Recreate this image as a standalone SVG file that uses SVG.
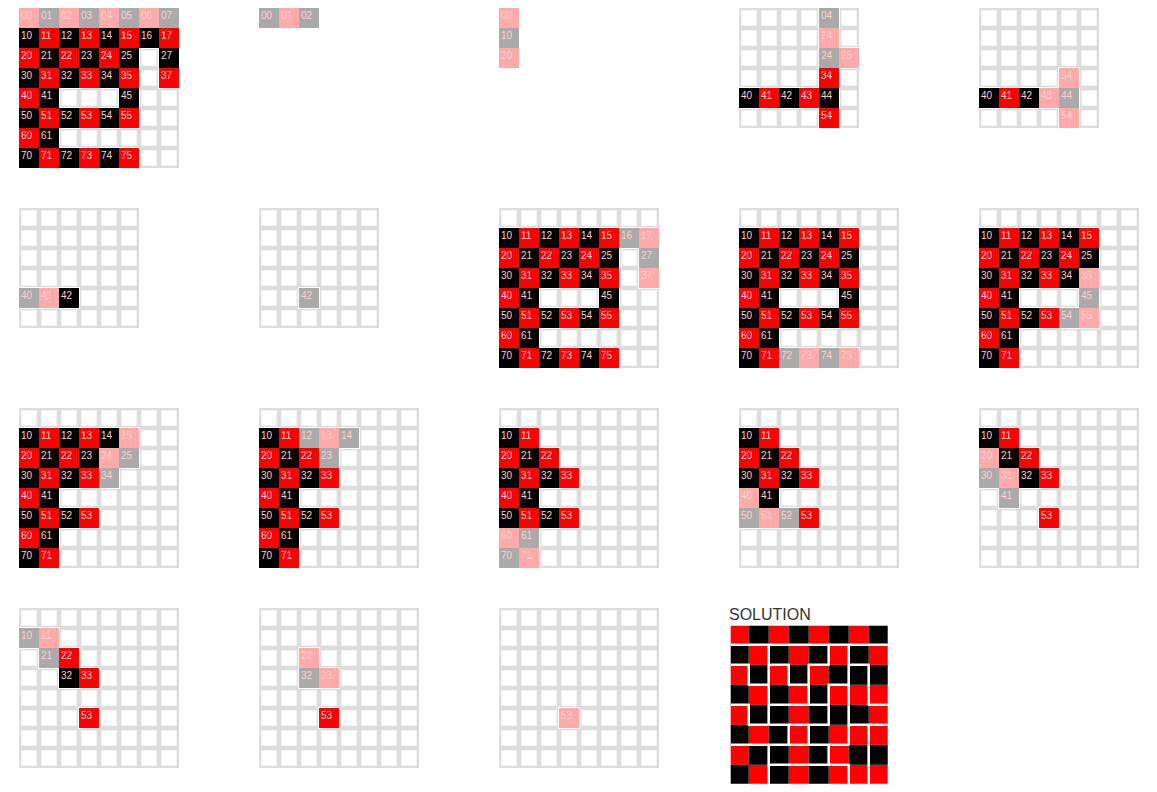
<svg xmlns="http://www.w3.org/2000/svg" width="1157" height="792" viewBox="0 0 1157 792">
<style>
.r{fill:#f00}.b{fill:#000}.p{fill:#ffaaaa}.g{fill:#aaa}
.t text{font-family:"Liberation Sans",Arial,sans-serif;font-size:10px;fill:#ffd0d0}
.lbl{font-family:"Liberation Sans",Arial,sans-serif;font-size:16px;fill:#333}
.wall{stroke:#fff;stroke-width:2.6;stroke-linecap:round;stroke-linejoin:round;fill:none}
</style>
<defs>
<pattern id="grid" width="20" height="20" patternUnits="userSpaceOnUse">
<rect width="20" height="20" fill="#ddd"/>
<rect x="2.35" y="2.35" width="15.3" height="15.3" fill="#fff"/>
</pattern>
<filter id="halo" filterUnits="userSpaceOnUse" x="-10" y="-10" width="190" height="190">
<feMorphology in="SourceAlpha" operator="dilate" radius="1.3" result="d"/>
<feFlood flood-color="#fff" result="f"/>
<feComposite in="f" in2="d" operator="in" result="w"/>
<feMerge><feMergeNode in="w"/><feMergeNode in="SourceGraphic"/></feMerge>
</filter>
<clipPath id="sc"><rect x="730.7" y="625.7" width="157" height="158"/></clipPath>
</defs>
<rect width="1157" height="792" fill="#fff"/>

<g id="p1" transform="translate(19,8)">
<rect width="160" height="160" fill="url(#grid)"/>
<g filter="url(#halo)" transform="translate(-1,-1)">
<path class="p" d="M1 1h20v20h-20zM41 1h20v20h-20zM81 1h20v20h-20zM121 1h20v20h-20z"/>
<path class="g" d="M21 1h20v20h-20zM61 1h20v20h-20zM101 1h20v20h-20zM141 1h20v20h-20z"/>
<path class="b" d="M1 21h20v20h-20zM41 21h20v20h-20zM81 21h20v20h-20zM121 21h20v20h-20zM21 41h20v20h-20zM61 41h20v20h-20zM101 41h20v20h-20zM141 41h20v20h-20zM1 61h20v20h-20zM41 61h20v20h-20zM81 61h20v20h-20zM21 81h20v20h-20zM101 81h20v20h-20zM1 101h20v20h-20zM41 101h20v20h-20zM81 101h20v20h-20zM21 121h20v20h-20zM1 141h20v20h-20zM41 141h20v20h-20zM81 141h20v20h-20z"/>
<path class="r" d="M21 21h20v20h-20zM61 21h20v20h-20zM101 21h20v20h-20zM141 21h20v20h-20zM1 41h20v20h-20zM41 41h20v20h-20zM81 41h20v20h-20zM21 61h20v20h-20zM61 61h20v20h-20zM101 61h20v20h-20zM141 61h20v20h-20zM1 81h20v20h-20zM21 101h20v20h-20zM61 101h20v20h-20zM101 101h20v20h-20zM1 121h20v20h-20zM21 141h20v20h-20zM61 141h20v20h-20zM101 141h20v20h-20z"/>
</g>
<g class="t">
<text x="2" y="10.5">00</text><text x="22" y="10.5">01</text><text x="42" y="10.5">02</text><text x="62" y="10.5">03</text><text x="82" y="10.5">04</text><text x="102" y="10.5">05</text><text x="122" y="10.5">06</text><text x="142" y="10.5">07</text>
<text x="2" y="30.5">10</text><text x="22" y="30.5">11</text><text x="42" y="30.5">12</text><text x="62" y="30.5">13</text><text x="82" y="30.5">14</text><text x="102" y="30.5">15</text><text x="122" y="30.5">16</text><text x="142" y="30.5">17</text>
<text x="2" y="50.5">20</text><text x="22" y="50.5">21</text><text x="42" y="50.5">22</text><text x="62" y="50.5">23</text><text x="82" y="50.5">24</text><text x="102" y="50.5">25</text><text x="142" y="50.5">27</text>
<text x="2" y="70.5">30</text><text x="22" y="70.5">31</text><text x="42" y="70.5">32</text><text x="62" y="70.5">33</text><text x="82" y="70.5">34</text><text x="102" y="70.5">35</text><text x="142" y="70.5">37</text>
<text x="2" y="90.5">40</text><text x="22" y="90.5">41</text><text x="102" y="90.5">45</text>
<text x="2" y="110.5">50</text><text x="22" y="110.5">51</text><text x="42" y="110.5">52</text><text x="62" y="110.5">53</text><text x="82" y="110.5">54</text><text x="102" y="110.5">55</text>
<text x="2" y="130.5">60</text><text x="22" y="130.5">61</text>
<text x="2" y="150.5">70</text><text x="22" y="150.5">71</text><text x="42" y="150.5">72</text><text x="62" y="150.5">73</text><text x="82" y="150.5">74</text><text x="102" y="150.5">75</text>
</g>
</g>

<g id="p2" transform="translate(259,8)">
<g filter="url(#halo)" transform="translate(-1,-1)">
<path class="g" d="M1 1h20v20h-20zM41 1h20v20h-20z"/>
<path class="p" d="M21 1h20v20h-20z"/>
</g>
<g class="t"><text x="2" y="10.5">00</text><text x="22" y="10.5">01</text><text x="42" y="10.5">02</text></g>
</g>

<g id="p3" transform="translate(499,8)">
<g filter="url(#halo)" transform="translate(-1,-1)">
<path class="p" d="M1 1h20v20h-20zM1 41h20v20h-20z"/>
<path class="g" d="M1 21h20v20h-20z"/>
</g>
<g class="t"><text x="2" y="10.5">00</text><text x="2" y="30.5">10</text><text x="2" y="50.5">20</text></g>
</g>

<g id="p4" transform="translate(739,8)">
<rect width="120" height="120" fill="url(#grid)"/>
<g filter="url(#halo)" transform="translate(-1,-1)">
<path class="g" d="M81 1h20v20h-20zM81 41h20v20h-20z"/>
<path class="p" d="M81 21h20v20h-20zM101 41h20v20h-20z"/>
<path class="r" d="M81 61h20v20h-20zM21 81h20v20h-20zM61 81h20v20h-20zM81 101h20v20h-20z"/>
<path class="b" d="M1 81h20v20h-20zM41 81h20v20h-20zM81 81h20v20h-20z"/>
</g>
<g class="t"><text x="82" y="10.5">04</text><text x="82" y="30.5">14</text><text x="82" y="50.5">24</text><text x="102" y="50.5">25</text><text x="82" y="70.5">34</text><text x="2" y="90.5">40</text><text x="22" y="90.5">41</text><text x="42" y="90.5">42</text><text x="62" y="90.5">43</text><text x="82" y="90.5">44</text><text x="82" y="110.5">54</text></g>
</g>

<g id="p5" transform="translate(979,8)">
<rect width="120" height="120" fill="url(#grid)"/>
<g filter="url(#halo)" transform="translate(-1,-1)">
<path class="p" d="M81 61h20v20h-20zM61 81h20v20h-20zM81 101h20v20h-20z"/>
<path class="g" d="M81 81h20v20h-20z"/>
<path class="b" d="M1 81h20v20h-20zM41 81h20v20h-20z"/>
<path class="r" d="M21 81h20v20h-20z"/>
</g>
<g class="t"><text x="82" y="70.5">34</text><text x="2" y="90.5">40</text><text x="22" y="90.5">41</text><text x="42" y="90.5">42</text><text x="62" y="90.5">43</text><text x="82" y="90.5">44</text><text x="82" y="110.5">54</text></g>
</g>

<g id="p6" transform="translate(19,208)">
<rect width="120" height="120" fill="url(#grid)"/>
<g filter="url(#halo)" transform="translate(-1,-1)">
<path class="g" d="M1 81h20v20h-20z"/>
<path class="p" d="M21 81h20v20h-20z"/>
<path class="b" d="M41 81h20v20h-20z"/>
</g>
<g class="t"><text x="2" y="90.5">40</text><text x="22" y="90.5">41</text><text x="42" y="90.5">42</text></g>
</g>

<g id="p7" transform="translate(259,208)">
<rect width="120" height="120" fill="url(#grid)"/>
<g filter="url(#halo)" transform="translate(-1,-1)">
<path class="g" d="M41 81h20v20h-20z"/>
</g>
<g class="t"><text x="42" y="90.5">42</text></g>
</g>

<g id="p8" transform="translate(499,208)">
<rect width="160" height="160" fill="url(#grid)"/>
<g filter="url(#halo)" transform="translate(-1,-1)">
<path class="b" d="M1 21h20v20h-20zM41 21h20v20h-20zM81 21h20v20h-20zM21 41h20v20h-20zM61 41h20v20h-20zM101 41h20v20h-20zM1 61h20v20h-20zM41 61h20v20h-20zM81 61h20v20h-20zM21 81h20v20h-20zM101 81h20v20h-20zM1 101h20v20h-20zM41 101h20v20h-20zM81 101h20v20h-20zM21 121h20v20h-20zM1 141h20v20h-20zM41 141h20v20h-20zM81 141h20v20h-20z"/>
<path class="r" d="M21 21h20v20h-20zM61 21h20v20h-20zM101 21h20v20h-20zM1 41h20v20h-20zM41 41h20v20h-20zM81 41h20v20h-20zM21 61h20v20h-20zM61 61h20v20h-20zM101 61h20v20h-20zM1 81h20v20h-20zM21 101h20v20h-20zM61 101h20v20h-20zM101 101h20v20h-20zM1 121h20v20h-20zM21 141h20v20h-20zM61 141h20v20h-20zM101 141h20v20h-20z"/>
<path class="g" d="M121 21h20v20h-20zM141 41h20v20h-20z"/>
<path class="p" d="M141 21h20v20h-20zM141 61h20v20h-20z"/>
</g>
<g class="t">
<text x="2" y="30.5">10</text><text x="22" y="30.5">11</text><text x="42" y="30.5">12</text><text x="62" y="30.5">13</text><text x="82" y="30.5">14</text><text x="102" y="30.5">15</text><text x="122" y="30.5">16</text><text x="142" y="30.5">17</text>
<text x="2" y="50.5">20</text><text x="22" y="50.5">21</text><text x="42" y="50.5">22</text><text x="62" y="50.5">23</text><text x="82" y="50.5">24</text><text x="102" y="50.5">25</text><text x="142" y="50.5">27</text>
<text x="2" y="70.5">30</text><text x="22" y="70.5">31</text><text x="42" y="70.5">32</text><text x="62" y="70.5">33</text><text x="82" y="70.5">34</text><text x="102" y="70.5">35</text><text x="142" y="70.5">37</text>
<text x="2" y="90.5">40</text><text x="22" y="90.5">41</text><text x="102" y="90.5">45</text>
<text x="2" y="110.5">50</text><text x="22" y="110.5">51</text><text x="42" y="110.5">52</text><text x="62" y="110.5">53</text><text x="82" y="110.5">54</text><text x="102" y="110.5">55</text>
<text x="2" y="130.5">60</text><text x="22" y="130.5">61</text>
<text x="2" y="150.5">70</text><text x="22" y="150.5">71</text><text x="42" y="150.5">72</text><text x="62" y="150.5">73</text><text x="82" y="150.5">74</text><text x="102" y="150.5">75</text>
</g>
</g>

<g id="p9" transform="translate(739,208)">
<rect width="160" height="160" fill="url(#grid)"/>
<g filter="url(#halo)" transform="translate(-1,-1)">
<path class="b" d="M1 21h20v20h-20zM41 21h20v20h-20zM81 21h20v20h-20zM21 41h20v20h-20zM61 41h20v20h-20zM101 41h20v20h-20zM1 61h20v20h-20zM41 61h20v20h-20zM81 61h20v20h-20zM21 81h20v20h-20zM101 81h20v20h-20zM1 101h20v20h-20zM41 101h20v20h-20zM81 101h20v20h-20zM21 121h20v20h-20zM1 141h20v20h-20z"/>
<path class="r" d="M21 21h20v20h-20zM61 21h20v20h-20zM101 21h20v20h-20zM1 41h20v20h-20zM41 41h20v20h-20zM81 41h20v20h-20zM21 61h20v20h-20zM61 61h20v20h-20zM101 61h20v20h-20zM1 81h20v20h-20zM21 101h20v20h-20zM61 101h20v20h-20zM101 101h20v20h-20zM1 121h20v20h-20zM21 141h20v20h-20z"/>
<path class="g" d="M41 141h20v20h-20zM81 141h20v20h-20z"/>
<path class="p" d="M61 141h20v20h-20zM101 141h20v20h-20z"/>
</g>
<g class="t">
<text x="2" y="30.5">10</text><text x="22" y="30.5">11</text><text x="42" y="30.5">12</text><text x="62" y="30.5">13</text><text x="82" y="30.5">14</text><text x="102" y="30.5">15</text>
<text x="2" y="50.5">20</text><text x="22" y="50.5">21</text><text x="42" y="50.5">22</text><text x="62" y="50.5">23</text><text x="82" y="50.5">24</text><text x="102" y="50.5">25</text>
<text x="2" y="70.5">30</text><text x="22" y="70.5">31</text><text x="42" y="70.5">32</text><text x="62" y="70.5">33</text><text x="82" y="70.5">34</text><text x="102" y="70.5">35</text>
<text x="2" y="90.5">40</text><text x="22" y="90.5">41</text><text x="102" y="90.5">45</text>
<text x="2" y="110.5">50</text><text x="22" y="110.5">51</text><text x="42" y="110.5">52</text><text x="62" y="110.5">53</text><text x="82" y="110.5">54</text><text x="102" y="110.5">55</text>
<text x="2" y="130.5">60</text><text x="22" y="130.5">61</text>
<text x="2" y="150.5">70</text><text x="22" y="150.5">71</text><text x="42" y="150.5">72</text><text x="62" y="150.5">73</text><text x="82" y="150.5">74</text><text x="102" y="150.5">75</text>
</g>
</g>

<g id="p10" transform="translate(979,208)">
<rect width="160" height="160" fill="url(#grid)"/>
<g filter="url(#halo)" transform="translate(-1,-1)">
<path class="b" d="M1 21h20v20h-20zM41 21h20v20h-20zM81 21h20v20h-20zM21 41h20v20h-20zM61 41h20v20h-20zM101 41h20v20h-20zM1 61h20v20h-20zM41 61h20v20h-20zM81 61h20v20h-20zM21 81h20v20h-20zM1 101h20v20h-20zM41 101h20v20h-20zM21 121h20v20h-20zM1 141h20v20h-20z"/>
<path class="r" d="M21 21h20v20h-20zM61 21h20v20h-20zM101 21h20v20h-20zM1 41h20v20h-20zM41 41h20v20h-20zM81 41h20v20h-20zM21 61h20v20h-20zM61 61h20v20h-20zM1 81h20v20h-20zM21 101h20v20h-20zM61 101h20v20h-20zM1 121h20v20h-20zM21 141h20v20h-20z"/>
<path class="p" d="M101 61h20v20h-20zM101 101h20v20h-20z"/>
<path class="g" d="M101 81h20v20h-20zM81 101h20v20h-20z"/>
</g>
<g class="t">
<text x="2" y="30.5">10</text><text x="22" y="30.5">11</text><text x="42" y="30.5">12</text><text x="62" y="30.5">13</text><text x="82" y="30.5">14</text><text x="102" y="30.5">15</text>
<text x="2" y="50.5">20</text><text x="22" y="50.5">21</text><text x="42" y="50.5">22</text><text x="62" y="50.5">23</text><text x="82" y="50.5">24</text><text x="102" y="50.5">25</text>
<text x="2" y="70.5">30</text><text x="22" y="70.5">31</text><text x="42" y="70.5">32</text><text x="62" y="70.5">33</text><text x="82" y="70.5">34</text><text x="102" y="70.5">35</text>
<text x="2" y="90.5">40</text><text x="22" y="90.5">41</text><text x="102" y="90.5">45</text>
<text x="2" y="110.5">50</text><text x="22" y="110.5">51</text><text x="42" y="110.5">52</text><text x="62" y="110.5">53</text><text x="82" y="110.5">54</text><text x="102" y="110.5">55</text>
<text x="2" y="130.5">60</text><text x="22" y="130.5">61</text>
<text x="2" y="150.5">70</text><text x="22" y="150.5">71</text>
</g>
</g>

<g id="p11" transform="translate(19,408)">
<rect width="160" height="160" fill="url(#grid)"/>
<g filter="url(#halo)" transform="translate(-1,-1)">
<path class="b" d="M1 21h20v20h-20zM41 21h20v20h-20zM81 21h20v20h-20zM21 41h20v20h-20zM61 41h20v20h-20zM1 61h20v20h-20zM41 61h20v20h-20zM21 81h20v20h-20zM1 101h20v20h-20zM41 101h20v20h-20zM21 121h20v20h-20zM1 141h20v20h-20z"/>
<path class="r" d="M21 21h20v20h-20zM61 21h20v20h-20zM1 41h20v20h-20zM41 41h20v20h-20zM21 61h20v20h-20zM61 61h20v20h-20zM1 81h20v20h-20zM21 101h20v20h-20zM61 101h20v20h-20zM1 121h20v20h-20zM21 141h20v20h-20z"/>
<path class="p" d="M101 21h20v20h-20zM81 41h20v20h-20z"/>
<path class="g" d="M101 41h20v20h-20zM81 61h20v20h-20z"/>
</g>
<g class="t">
<text x="2" y="30.5">10</text><text x="22" y="30.5">11</text><text x="42" y="30.5">12</text><text x="62" y="30.5">13</text><text x="82" y="30.5">14</text><text x="102" y="30.5">15</text>
<text x="2" y="50.5">20</text><text x="22" y="50.5">21</text><text x="42" y="50.5">22</text><text x="62" y="50.5">23</text><text x="82" y="50.5">24</text><text x="102" y="50.5">25</text>
<text x="2" y="70.5">30</text><text x="22" y="70.5">31</text><text x="42" y="70.5">32</text><text x="62" y="70.5">33</text><text x="82" y="70.5">34</text>
<text x="2" y="90.5">40</text><text x="22" y="90.5">41</text>
<text x="2" y="110.5">50</text><text x="22" y="110.5">51</text><text x="42" y="110.5">52</text><text x="62" y="110.5">53</text>
<text x="2" y="130.5">60</text><text x="22" y="130.5">61</text>
<text x="2" y="150.5">70</text><text x="22" y="150.5">71</text>
</g>
</g>

<g id="p12" transform="translate(259,408)">
<rect width="160" height="160" fill="url(#grid)"/>
<g filter="url(#halo)" transform="translate(-1,-1)">
<path class="b" d="M1 21h20v20h-20zM21 41h20v20h-20zM1 61h20v20h-20zM41 61h20v20h-20zM21 81h20v20h-20zM1 101h20v20h-20zM41 101h20v20h-20zM21 121h20v20h-20zM1 141h20v20h-20z"/>
<path class="r" d="M21 21h20v20h-20zM1 41h20v20h-20zM41 41h20v20h-20zM21 61h20v20h-20zM61 61h20v20h-20zM1 81h20v20h-20zM21 101h20v20h-20zM61 101h20v20h-20zM1 121h20v20h-20zM21 141h20v20h-20z"/>
<path class="g" d="M41 21h20v20h-20zM81 21h20v20h-20zM61 41h20v20h-20z"/>
<path class="p" d="M61 21h20v20h-20z"/>
</g>
<g class="t">
<text x="2" y="30.5">10</text><text x="22" y="30.5">11</text><text x="42" y="30.5">12</text><text x="62" y="30.5">13</text><text x="82" y="30.5">14</text>
<text x="2" y="50.5">20</text><text x="22" y="50.5">21</text><text x="42" y="50.5">22</text><text x="62" y="50.5">23</text>
<text x="2" y="70.5">30</text><text x="22" y="70.5">31</text><text x="42" y="70.5">32</text><text x="62" y="70.5">33</text>
<text x="2" y="90.5">40</text><text x="22" y="90.5">41</text>
<text x="2" y="110.5">50</text><text x="22" y="110.5">51</text><text x="42" y="110.5">52</text><text x="62" y="110.5">53</text>
<text x="2" y="130.5">60</text><text x="22" y="130.5">61</text>
<text x="2" y="150.5">70</text><text x="22" y="150.5">71</text>
</g>
</g>

<g id="p13" transform="translate(499,408)">
<rect width="160" height="160" fill="url(#grid)"/>
<g filter="url(#halo)" transform="translate(-1,-1)">
<path class="b" d="M1 21h20v20h-20zM21 41h20v20h-20zM1 61h20v20h-20zM41 61h20v20h-20zM21 81h20v20h-20zM1 101h20v20h-20zM41 101h20v20h-20z"/>
<path class="r" d="M21 21h20v20h-20zM1 41h20v20h-20zM41 41h20v20h-20zM21 61h20v20h-20zM61 61h20v20h-20zM1 81h20v20h-20zM21 101h20v20h-20zM61 101h20v20h-20z"/>
<path class="p" d="M1 121h20v20h-20zM21 141h20v20h-20z"/>
<path class="g" d="M21 121h20v20h-20zM1 141h20v20h-20z"/>
</g>
<g class="t">
<text x="2" y="30.5">10</text><text x="22" y="30.5">11</text>
<text x="2" y="50.5">20</text><text x="22" y="50.5">21</text><text x="42" y="50.5">22</text>
<text x="2" y="70.5">30</text><text x="22" y="70.5">31</text><text x="42" y="70.5">32</text><text x="62" y="70.5">33</text>
<text x="2" y="90.5">40</text><text x="22" y="90.5">41</text>
<text x="2" y="110.5">50</text><text x="22" y="110.5">51</text><text x="42" y="110.5">52</text><text x="62" y="110.5">53</text>
<text x="2" y="130.5">60</text><text x="22" y="130.5">61</text>
<text x="2" y="150.5">70</text><text x="22" y="150.5">71</text>
</g>
</g>

<g id="p14" transform="translate(739,408)">
<rect width="160" height="160" fill="url(#grid)"/>
<g filter="url(#halo)" transform="translate(-1,-1)">
<path class="b" d="M1 21h20v20h-20zM21 41h20v20h-20zM1 61h20v20h-20zM41 61h20v20h-20zM21 81h20v20h-20z"/>
<path class="r" d="M21 21h20v20h-20zM1 41h20v20h-20zM41 41h20v20h-20zM21 61h20v20h-20zM61 61h20v20h-20zM61 101h20v20h-20z"/>
<path class="p" d="M1 81h20v20h-20zM21 101h20v20h-20z"/>
<path class="g" d="M1 101h20v20h-20zM41 101h20v20h-20z"/>
</g>
<g class="t">
<text x="2" y="30.5">10</text><text x="22" y="30.5">11</text>
<text x="2" y="50.5">20</text><text x="22" y="50.5">21</text><text x="42" y="50.5">22</text>
<text x="2" y="70.5">30</text><text x="22" y="70.5">31</text><text x="42" y="70.5">32</text><text x="62" y="70.5">33</text>
<text x="2" y="90.5">40</text><text x="22" y="90.5">41</text>
<text x="2" y="110.5">50</text><text x="22" y="110.5">51</text><text x="42" y="110.5">52</text><text x="62" y="110.5">53</text>
</g>
</g>

<g id="p15" transform="translate(979,408)">
<rect width="160" height="160" fill="url(#grid)"/>
<g filter="url(#halo)" transform="translate(-1,-1)">
<path class="b" d="M1 21h20v20h-20zM21 41h20v20h-20zM41 61h20v20h-20z"/>
<path class="r" d="M21 21h20v20h-20zM41 41h20v20h-20zM61 61h20v20h-20zM61 101h20v20h-20z"/>
<path class="p" d="M1 41h20v20h-20zM21 61h20v20h-20z"/>
<path class="g" d="M1 61h20v20h-20zM21 81h20v20h-20z"/>
</g>
<g class="t">
<text x="2" y="30.5">10</text><text x="22" y="30.5">11</text>
<text x="2" y="50.5">20</text><text x="22" y="50.5">21</text><text x="42" y="50.5">22</text>
<text x="2" y="70.5">30</text><text x="22" y="70.5">31</text><text x="42" y="70.5">32</text><text x="62" y="70.5">33</text>
<text x="22" y="90.5">41</text>
<text x="62" y="110.5">53</text>
</g>
</g>

<g id="p16" transform="translate(19,608)">
<rect width="160" height="160" fill="url(#grid)"/>
<g filter="url(#halo)" transform="translate(-1,-1)">
<path class="g" d="M1 21h20v20h-20zM21 41h20v20h-20z"/>
<path class="p" d="M21 21h20v20h-20z"/>
<path class="r" d="M41 41h20v20h-20zM61 61h20v20h-20zM61 101h20v20h-20z"/>
<path class="b" d="M41 61h20v20h-20z"/>
</g>
<g class="t">
<text x="2" y="30.5">10</text><text x="22" y="30.5">11</text>
<text x="22" y="50.5">21</text><text x="42" y="50.5">22</text>
<text x="42" y="70.5">32</text><text x="62" y="70.5">33</text>
<text x="62" y="110.5">53</text>
</g>
</g>

<g id="p17" transform="translate(259,608)">
<rect width="160" height="160" fill="url(#grid)"/>
<g filter="url(#halo)" transform="translate(-1,-1)">
<path class="p" d="M41 41h20v20h-20zM61 61h20v20h-20z"/>
<path class="g" d="M41 61h20v20h-20z"/>
<path class="r" d="M61 101h20v20h-20z"/>
</g>
<g class="t">
<text x="42" y="50.5">22</text><text x="42" y="70.5">32</text><text x="62" y="70.5">33</text><text x="62" y="110.5">53</text>
</g>
</g>

<g id="p18" transform="translate(499,608)">
<rect width="160" height="160" fill="url(#grid)"/>
<g filter="url(#halo)" transform="translate(-1,-1)">
<path class="p" d="M61 101h20v20h-20z"/>
</g>
<g class="t"><text x="62" y="110.5">53</text></g>
</g>

<g id="solution">
<text class="lbl" x="729" y="620">SOLUTION</text>
<g clip-path="url(#sc)">
<g transform="translate(727.7,623.7)">
<path class="r" d="M1 1h20v20h-20zM41 1h20v20h-20zM81 1h20v20h-20zM121 1h20v20h-20zM21 21h20v20h-20zM61 21h20v20h-20zM101 21h20v20h-20zM141 21h20v20h-20zM1 41h20v20h-20zM41 41h20v20h-20zM81 41h20v20h-20zM21 61h20v20h-20zM61 61h20v20h-20zM101 61h20v20h-20zM121 61h20v20h-20zM141 61h20v20h-20zM1 81h20v20h-20zM61 81h20v20h-20zM141 81h20v20h-20zM21 101h20v20h-20zM61 101h20v20h-20zM101 101h20v20h-20zM121 101h20v20h-20zM141 101h20v20h-20zM1 121h20v20h-20zM61 121h20v20h-20zM101 121h20v20h-20zM21 141h20v20h-20zM61 141h20v20h-20zM101 141h20v20h-20zM121 141h20v20h-20zM141 141h20v20h-20z"/>
<path class="b" d="M21 1h20v20h-20zM61 1h20v20h-20zM101 1h20v20h-20zM141 1h20v20h-20zM1 21h20v20h-20zM41 21h20v20h-20zM81 21h20v20h-20zM121 21h20v20h-20zM21 41h20v20h-20zM61 41h20v20h-20zM101 41h20v20h-20zM121 41h20v20h-20zM141 41h20v20h-20zM1 61h20v20h-20zM41 61h20v20h-20zM81 61h20v20h-20zM21 81h20v20h-20zM41 81h20v20h-20zM81 81h20v20h-20zM101 81h20v20h-20zM121 81h20v20h-20zM1 101h20v20h-20zM41 101h20v20h-20zM81 101h20v20h-20zM21 121h20v20h-20zM41 121h20v20h-20zM81 121h20v20h-20zM121 121h20v20h-20zM141 121h20v20h-20zM1 141h20v20h-20zM41 141h20v20h-20zM81 141h20v20h-20z"/>
<path class="wall" d="M21 41V61M21 81V101M41 21V101M41 121V161M61 41V61M61 101V121M81 41V81M81 101V121M101 21V41M101 61V101M101 121V141M121 21V121M121 141V161M141 41V81M141 101V161M1 21H161M1 41H21M41 41H61M81 41H101M121 41H141M21 61H41M61 61H81M101 61H121M1 81H21M41 81H101M141 81H161M21 101H101M121 101H161M1 121H121M41 141H121"/>
</g>
</g>
</g>
</svg>
